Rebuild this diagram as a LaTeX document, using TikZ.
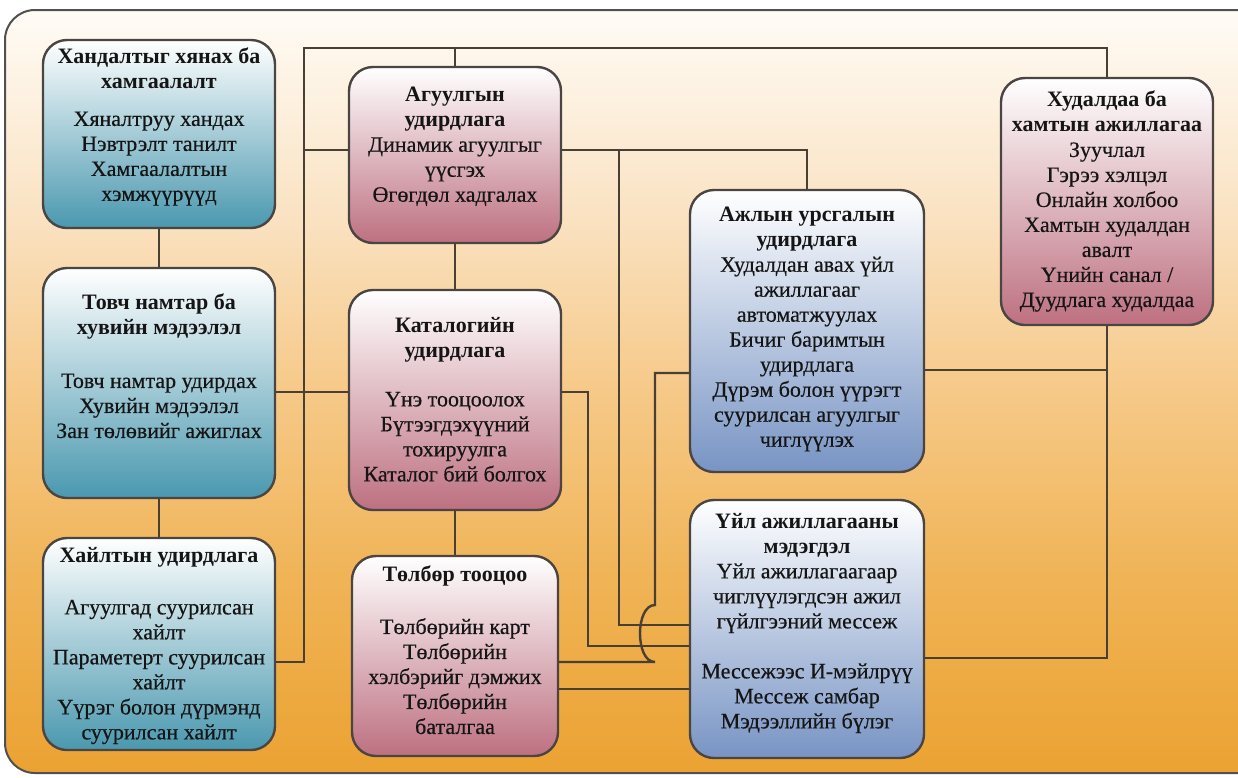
\documentclass[tikz,border=0pt]{standalone}
\usepackage{fontspec}
\setmainfont{Liberation Serif}[UprightFeatures={FakeBold=0.4}]
\usetikzlibrary{calc}
\definecolor{bgA}{HTML}{FFFCF6}
\definecolor{bgB}{HTML}{FAE3C4}
\definecolor{bgC}{HTML}{F6C988}
\definecolor{bgD}{HTML}{F0B457}
\definecolor{bgE}{HTML}{EBA232}
\definecolor{frameC}{HTML}{505050}
\definecolor{lineC}{HTML}{4A3F35}
\definecolor{boxLine}{HTML}{4A4542}
\definecolor{tealB}{HTML}{4A98AF}
\definecolor{pinkB}{HTML}{BD7080}
\definecolor{blueB}{HTML}{7894C4}
\definecolor{txtC}{HTML}{151515}
\pgfdeclareverticalshading{bgshade}{100bp}{color(0bp)=(bgE); color(25bp)=(bgE); color(38bp)=(bgD); color(50bp)=(bgC); color(62bp)=(bgB); color(75bp)=(bgA); color(100bp)=(bgA)}
\tikzset{
  box/.style={draw=boxLine, line width=2.4pt, rounded corners=24pt, inner sep=0pt, top color=white},
  tealbox/.style={box, bottom color=tealB},
  pinkbox/.style={box, bottom color=pinkB},
  bluebox/.style={box, bottom color=blueB},
  txt/.style={align=center, inner sep=0pt, text=txtC, font=\fontsize{22}{25}\selectfont, anchor=north},
  conn/.style={draw=lineC, line width=2.4pt},
  framestroke/.style={draw=frameC, line width=2pt}
}
\begin{document}
\begin{tikzpicture}[x=1pt,y=-1pt]
\useasboundingbox (0,0) rectangle (1238,777);
\fill[white] (0,0) rectangle (1238,777);
% outer frame (its right side runs off the picture)
\shade[shading=bgshade] (1238,773) -- (35,773) .. controls (18.4,773) and (5,759.6) .. (5,743) -- (5,40) .. controls (5,23.4) and (18.4,10) .. (35,10) -- (1238,10) -- cycle;
\draw[framestroke] (1238,773) -- (35,773) .. controls (18.4,773) and (5,759.6) .. (5,743) -- (5,40) .. controls (5,23.4) and (18.4,10) .. (35,10) -- (1238,10);

% boxes
\node[tealbox, minimum width=232pt, minimum height=188pt] (A) at (159,134) {};
\node[tealbox, minimum width=232pt, minimum height=230pt] (B) at (159,383) {};
\node[tealbox, minimum width=232pt, minimum height=212pt] (C) at (159,644) {};
\node[pinkbox, minimum width=212pt, minimum height=176pt] (D) at (455,155) {};
\node[pinkbox, minimum width=212pt, minimum height=220pt] (E) at (455,400) {};
\node[pinkbox, minimum width=206pt, minimum height=200pt] (F) at (455,656) {};
\node[bluebox, minimum width=234pt, minimum height=282pt] (G) at (807,331) {};
\node[bluebox, minimum width=234pt, minimum height=258pt] (H) at (807,629) {};
\node[pinkbox, minimum width=212pt, minimum height=247pt] (K) at (1107,201.5) {};

% helper coordinates
\coordinate (busTop) at (304,48);
\coordinate (busBot) at (304,662);
\coordinate (yDL) at (304,150);
\coordinate (yBE) at (0,392);
\coordinate (jD) at (619,150);
\coordinate (yH1) at (0,625);
\coordinate (jE) at (588,392);
\coordinate (yH2) at (0,646);
\coordinate (hopB) at (655,662);
\coordinate (hopT) at (655,605);
\coordinate (yG1) at (0,373);
\coordinate (yF2) at (0,689);
\coordinate (yG2) at (0,370);
\coordinate (yH3) at (0,658);

% connectors
\draw[conn] (A.south) -- (B.north);
\draw[conn] (B.south) -- (C.north);
\draw[conn] (D.south) -- (E.north);
\draw[conn] (E.south) -- (F.north);
\draw[conn] (C.east |- busBot) -- (busBot) -- (busTop) -| (K.north);
\draw[conn] (D.north) -- (D.north |- busTop);
\draw[conn] (D.west |- yDL) -- (yDL);
\draw[conn] (B.east |- yBE) -- (E.west |- yBE);
\draw[conn] (D.east |- jD) -| (G.north);
\draw[conn] (jD) -- (jD |- yH1) -- (H.west |- yH1);
\draw[conn] (E.east |- jE) -- (jE) -- (jE |- yH2) -- (H.west |- yH2);
\draw[conn] (F.east |- hopB) -- (hopB) .. controls ($(hopB)+(-20,0)$) and ($(hopT)+(-20,0)$) .. (hopT) -- (hopT |- yG1) -- (G.west |- yG1);
\draw[conn] (F.east |- yF2) -- (H.west |- yF2);
\draw[conn] (K.south) -- (K.south |- yH3) -- (H.east |- yH3);
\draw[conn] (G.east |- yG2) -- (K.south |- yG2);

% texts
\node[txt] (At) at (159,48) {\textbf{Хандалтыг хянах ба}\\\textbf{хамгаалалт}\\[12pt]Хяналтруу хандах\\Нэвтрэлт танилт\\Хамгаалалтын\\хэмжүүрүүд};
\node[txt] (Bt) at (159,294) {\textbf{Товч намтар ба}\\\textbf{хувийн мэдээлэл}\\[28pt]Товч намтар удирдах\\Хувийн мэдээлэл\\Зан төлөвийг ажиглах};
\node[txt] (Ct) at (159,547) {\textbf{Хайлтын удирдлага}\\[27pt]Агуулгад суурилсан\\хайлт\\Параметерт суурилсан\\хайлт\\Үүрэг болон дүрмэнд\\суурилсан хайлт};
\node[txt] (Dt) at (455,87) {\textbf{Агуулгын}\\\textbf{удирдлага}\\Динамик агуулгыг\\үүсгэх\\Өгөгдөл хадгалах};
\node[txt] (Et) at (455,317) {\textbf{Каталогийн}\\\textbf{удирдлага}\\[24pt]Үнэ тооцоолох\\Бүтээгдэхүүний\\тохируулга\\Каталог бий болгох};
\node[txt] (Ft) at (455,566) {\textbf{Төлбөр тооцоо}\\[27pt]Төлбөрийн карт\\Төлбөрийн\\хэлбэрийг дэмжих\\Төлбөрийн\\баталгаа};
\node[txt] (Gt) at (807,207) {\textbf{Ажлын урсгалын}\\\textbf{удирдлага}\\Худалдан авах үйл\\ажиллагааг\\автоматжуулах\\Бичиг баримтын\\удирдлага\\Дүрэм болон үүрэгт\\суурилсан агуулгыг\\чиглүүлэх};
\node[txt] (Ht) at (807,513) {\textbf{Үйл ажиллагааны}\\\textbf{мэдэгдэл}\\Үйл ажиллагаагаар\\чиглүүлэгдсэн ажил\\гүйлгээний мессеж\\[25pt]Мессежээс И-мэйлрүү\\Мессеж самбар\\Мэдээллийн бүлэг};
\node[txt] (Kt) at (1107,91) {\textbf{Худалдаа ба}\\\textbf{хамтын ажиллагаа}\\Зуучлал\\Гэрээ хэлцэл\\Онлайн холбоо\\Хамтын худалдан\\авалт\\Үнийн санал /\\Дуудлага худалдаа};
\end{tikzpicture}
\end{document}
